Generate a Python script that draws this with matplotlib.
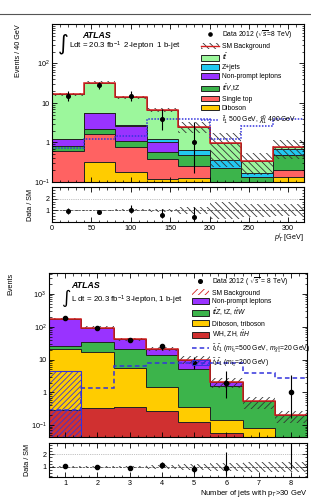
import numpy as np
import matplotlib
matplotlib.use('Agg')
import matplotlib.pyplot as plt
from matplotlib.lines import Line2D
from matplotlib.patches import Patch
from matplotlib.ticker import LogLocator, MultipleLocator, FuncFormatter, NullFormatter, FixedLocator

plt.rcParams['font.family'] = ['Liberation Sans', 'DejaVu Sans']
plt.rcParams['mathtext.fontset'] = 'custom'
plt.rcParams['mathtext.rm'] = 'Liberation Sans'
plt.rcParams['mathtext.it'] = 'Liberation Sans:italic'
plt.rcParams['mathtext.bf'] = 'Liberation Sans:bold'
plt.rcParams['mathtext.sf'] = 'Liberation Sans'
plt.rcParams['hatch.linewidth'] = 0.6

# ---------------- top panel: 2-lepton, 1 b-jet, lepton pT ----------------
pt_edges = [0, 40, 80, 120, 160, 200, 240, 280, 320]
top_diboson = [0.0, 0.32, 0.18, 0.12, 0.126, 0.0, 0.0, 0.13]
top_singletop = [0.61, 1.32, 0.60, 0.26, 0.134, 0.04, 0.03, 0.07]
top_ttv = [0.20, 0.56, 0.32, 0.20, 0.22, 0.18, 0.10, 0.28]
top_nonprompt = [0.42, 3.4, 1.5, 0.42, 0.0, 0.0, 0.0, 0.0]
top_zjets = [0.0, 0.0, 0.15, 0.23, 0.17, 0.14, 0.04, 0.20]
top_ttbar = [15.3, 27.4, 11.3, 5.4, 1.85, 0.61, 0.17, 0.09]
top_unc = [0.07, 0.07, 0.08, 0.12, 0.30, 0.75, 0.55, 0.50]
top_signal = [0.72, 1.23, 1.46, 4.0, 4.0, 1.25, 2.6, 4.0]
top_data_x = [20, 60, 100, 140, 180]
top_data = [15, 28, 15, 4, 1]
top_data_lo = [3.8, 5.3, 3.8, 1.9, 0.83]
top_data_hi = [4.9, 6.3, 4.9, 3.2, 2.3]

# ---------------- bottom panel: 3-lepton, 1 b-jet, jet multiplicity ----------------
nj_edges = [0.5, 1.5, 2.5, 3.5, 4.5, 5.5, 6.5, 7.5, 8.5]
bot_whzh = [0.30, 0.33, 0.37, 0.27, 0.13, 0.06, 0.02, 0.01]
bot_diboson = [20.7, 16.7, 5.2, 1.2, 0.22, 0.08, 0.06, 0.02]
bot_ttz = [5.0, 16.0, 15.4, 12.5, 4.65, 1.46, 0.45, 0.17]
bot_nonprompt = [149, 61, 21, 7.0, 5.0, 0.5, 0.0, 0.0]
bot_unc = [0.08, 0.08, 0.10, 0.15, 0.25, 0.35, 0.40, 0.40]
bot_signal1 = [0.3, 1.4, 6.2, 8.1, 8.1, 8.1, 4.0, 2.8]
bot_signal2 = [4.5, 0, 0, 0, 0, 0, 0, 0]
bot_data_x = [1, 2, 3, 4, 5, 6, 8]
bot_data = [190, 93, 40, 25, 8, 2, 1]
bot_data_lo = [14, 10, 6.3, 5.0, 2.8, 1.3, 0.83]
bot_data_hi = [14, 10, 6.3, 5.0, 3.9, 2.6, 2.3]

C_TTBAR = '#9cf79c'
C_ZJ = '#22c8f0'
C_NP = '#9933ff'
C_TTV = '#3cb44b'
C_ST = '#ff6262'
C_DIB = '#ffcc00'
C_WH = '#d03030'
C_TOT = '#d41e1e'
C_SIG = '#3333dd'
C_HATCH = '#333333'
FS = 5.2

fig = plt.figure(figsize=(3.11, 4.98), dpi=100)
fig.add_artist(Line2D([0, 1], [1 - 14 / 498, 1 - 14 / 498], color='#555555', lw=0.8))


def style(ax):
    ax.tick_params(which='both', direction='in', top=True, right=True, labelsize=FS, pad=2)
    ax.tick_params(which='major', length=3.5, width=0.6)
    ax.tick_params(which='minor', length=1.8, width=0.5)
    for s in ax.spines.values():
        s.set_linewidth(0.8)


def log_fmt(v, pos):
    e = int(round(np.log10(v)))
    if e == 0:
        return '1'
    if e == 1:
        return '10'
    return r'$10^{%d}$' % e


def draw_stack(ax, edges, layers, colors, base):
    cum = np.full(len(edges) - 1, base)
    tops = []
    for vals, c in zip(layers, colors):
        new = cum + np.array(vals)
        ax.stairs(new, edges, baseline=cum, fill=True, color=c, lw=0)
        tops.append(new.copy())
        cum = new
    for t in tops:
        ax.stairs(t, edges, baseline=None, color='#222222', lw=0.7)
    return cum


# ===== top main =====
ax1 = fig.add_axes([52 / 311, 1 - 182 / 498, 252 / 311, 158 / 498])
tot1 = draw_stack(ax1, pt_edges,
                  [top_diboson, top_singletop, top_ttv, top_nonprompt, top_zjets, top_ttbar],
                  [C_DIB, C_ST, C_TTV, C_NP, C_ZJ, C_TTBAR], 1e-4)
u1 = np.array(top_unc)
ax1.stairs(tot1 * (1 + u1), pt_edges, baseline=tot1 * (1 - u1), fill=True,
           facecolor='none', edgecolor=C_HATCH, hatch='\\\\\\\\\\', lw=0)
ax1.stairs(tot1, pt_edges, baseline=None, color=C_TOT, lw=1.1)
ax1.stairs(top_signal, pt_edges, baseline=None, color=C_SIG, lw=1.1, ls=(0, (1, 1)))
ax1.errorbar(top_data_x, top_data, yerr=[top_data_lo, top_data_hi], fmt='o', ms=2.6,
             color='black', elinewidth=0.8, capsize=0)
ax1.set_yscale('log')
ax1.set_ylim(0.1, 1000)
ax1.set_xlim(0, 320)
ax1.yaxis.set_major_locator(FixedLocator([0.1, 1, 10, 100]))
ax1.yaxis.set_major_formatter(FuncFormatter(log_fmt))
ax1.yaxis.set_minor_locator(LogLocator(base=10, subs=np.arange(2, 10)))
ax1.yaxis.set_minor_formatter(NullFormatter())
ax1.xaxis.set_major_locator(MultipleLocator(50))
ax1.xaxis.set_minor_locator(MultipleLocator(10))
ax1.set_xticklabels([])
style(ax1)
ax1.set_ylabel('Events / 40 GeV', fontsize=FS, loc='top', labelpad=8)
ax1.text(0.118, 0.93, 'ATLAS', transform=ax1.transAxes, fontsize=6.3, fontweight='bold',
         style='italic', va='center')
ax1.text(0.024, 0.875, '\u222b', transform=ax1.transAxes, fontsize=15, va='center',
         family='DejaVu Sans')
ax1.text(0.068, 0.858, r'Ldt = 20.3 fb$^{-1}$  2-lepton  1 b-jet', transform=ax1.transAxes,
         fontsize=FS + 0.5, va='center')

h_data = Line2D([], [], marker='o', color='k', ls='none', ms=2.3)
h_sm = (Patch(facecolor='none', edgecolor=C_HATCH, hatch='\\\\\\\\\\', lw=0),
        Line2D([], [], color=C_TOT, lw=1.0))
hs1 = [h_data, h_sm,
       Patch(facecolor=C_TTBAR, edgecolor='#222222', lw=0.7),
       Patch(facecolor=C_ZJ, edgecolor='#222222', lw=0.7),
       Patch(facecolor=C_NP, edgecolor='#222222', lw=0.7),
       Patch(facecolor=C_TTV, edgecolor='#222222', lw=0.7),
       Patch(facecolor=C_ST, edgecolor='#222222', lw=0.7),
       Patch(facecolor=C_DIB, edgecolor='#222222', lw=0.7),
       Line2D([], [], color=C_SIG, lw=1.1, ls=(0, (1, 1)))]
ls1 = [r'Data 2012 ($\sqrt{s}$=8 TeV)', 'SM Background', r'$t\bar{t}$', 'Z+jets',
       'Non-prompt leptons', r'$t\bar{t}V$,tZ', 'Single top', 'Diboson',
       r'$\tilde{t}_1$ 500 GeV, $\tilde{\chi}^0_1$ 400 GeV']
ax1.legend(hs1, ls1, loc='upper left', bbox_to_anchor=(0.59, 0.975), frameon=False,
           fontsize=FS - 0.3, handlelength=2.6, handleheight=0.9, handletextpad=0.4,
           labelspacing=0.28, borderpad=0.1, borderaxespad=0.0)

# ===== top ratio =====
ax2 = fig.add_axes([52 / 311, 1 - 222 / 498, 252 / 311, 35 / 498])
ax2.stairs(1 + u1, pt_edges, baseline=1 - u1, fill=True, facecolor='none',
           edgecolor=C_HATCH, hatch='\\\\\\\\\\', lw=0)
ax2.axhline(1, color='#333333', lw=0.5, ls='--')
ax2.axhline(2, color='#888888', lw=0.5, ls=':')
n1 = len(top_data)
r1 = np.array(top_data) / tot1[:n1]
ax2.errorbar(top_data_x, r1, yerr=[np.array(top_data_lo) / tot1[:n1], np.array(top_data_hi) / tot1[:n1]],
             fmt='o', ms=2.6, color='black', elinewidth=0.8, capsize=0)
ax2.set_xlim(0, 320)
ax2.set_ylim(0, 3)
ax2.yaxis.set_major_locator(FixedLocator([1, 2]))
ax2.yaxis.set_minor_locator(MultipleLocator(0.25))
ax2.xaxis.set_major_locator(MultipleLocator(50))
ax2.xaxis.set_minor_locator(MultipleLocator(10))
style(ax2)
ax2.set_ylabel('Data / SM', fontsize=FS, labelpad=8)
ax2.set_xlabel(r'$p_{T}^{l}$ [GeV]', fontsize=FS, loc='right', labelpad=0)

# ===== bottom main =====
ax3 = fig.add_axes([49 / 311, 1 - 437 / 498, 258 / 311, 164 / 498])
tot3 = draw_stack(ax3, nj_edges, [bot_whzh, bot_diboson, bot_ttz, bot_nonprompt],
                  [C_WH, C_DIB, C_TTV, C_NP], 1e-4)
u3 = np.array(bot_unc)
ax3.stairs(tot3 * (1 + u3), nj_edges, baseline=tot3 * (1 - u3), fill=True,
           facecolor='none', edgecolor=C_HATCH, hatch='/////', lw=0)
ax3.stairs(tot3, nj_edges, baseline=None, color=C_TOT, lw=1.1)
sig2 = np.array(bot_signal2, dtype=float)
e = np.array(nj_edges)
for i in np.where(sig2 > 0)[0]:
    ax3.stairs([sig2[i]], [e[i], e[i + 1]], baseline=1e-4, fill=True, facecolor='none',
               edgecolor=C_SIG, hatch='//////', lw=0.8)
ax3.stairs(bot_signal1, nj_edges, baseline=None, color=C_SIG, lw=1.1, ls=(0, (3, 2)))
ax3.errorbar(bot_data_x, bot_data, yerr=[bot_data_lo, bot_data_hi], fmt='o', ms=3.0,
             color='black', elinewidth=0.8, capsize=0)
ax3.set_yscale('log')
ax3.set_ylim(0.044, 4300)
ax3.set_xlim(0.5, 8.5)
ax3.yaxis.set_major_locator(FixedLocator([0.1, 1, 10, 100, 1000]))
ax3.yaxis.set_major_formatter(FuncFormatter(log_fmt))
ax3.yaxis.set_minor_locator(LogLocator(base=10, subs=np.arange(2, 10)))
ax3.yaxis.set_minor_formatter(NullFormatter())
ax3.xaxis.set_major_locator(MultipleLocator(1))
ax3.xaxis.set_minor_locator(MultipleLocator(0.25))
ax3.set_xticklabels([])
style(ax3)
ax3.set_ylabel('Events', fontsize=FS, loc='top', labelpad=12)
ax3.text(0.085, 0.925, 'ATLAS', transform=ax3.transAxes, fontsize=6.3, fontweight='bold',
         style='italic', va='center')
ax3.text(0.047, 0.845, '\u222b', transform=ax3.transAxes, fontsize=13, va='center',
         family='DejaVu Sans')
ax3.text(0.085, 0.835, r'L dt = 20.3 fb$^{-1}$ 3-lepton, 1 b-jet', transform=ax3.transAxes,
         fontsize=FS + 0.5, va='center')

h_sm3 = (Patch(facecolor='none', edgecolor=C_TOT, hatch='/////', lw=0),)
hs3 = [Line2D([], [], marker='o', color='k', ls='none', ms=2.6), h_sm3,
       Patch(facecolor=C_NP, edgecolor='#222222', lw=0.7),
       Patch(facecolor=C_TTV, edgecolor='#222222', lw=0.7),
       Patch(facecolor=C_DIB, edgecolor='#222222', lw=0.7),
       Patch(facecolor=C_WH, edgecolor='#222222', lw=0.7),
       Line2D([], [], color=C_SIG, lw=1.1, ls=(0, (3, 2))),
       Patch(facecolor='none', edgecolor=C_SIG, hatch='//////', lw=0.7)]
ls3 = [r'Data 2012 ( $\sqrt{s}$ = 8 TeV)', 'SM Background', 'Non-prompt leptons',
       r'$t\bar{t}Z$, tZ, $t\bar{t}W$', 'Diboson, triboson', r'WH, ZH, $t\bar{t}H$',
       r'$\tilde{t}_1\tilde{t}_1$ ($m_{\tilde{t}_1}$=500 GeV, $m_{\tilde{\chi}^0_1}$=20 GeV)',
       r'$\tilde{t}_1\tilde{t}_1$ ($m_{\tilde{t}_1}$=200 GeV)']
ax3.legend(hs3, ls3, loc='upper left', bbox_to_anchor=(0.55, 0.99), frameon=False,
           fontsize=FS - 0.3, handlelength=2.6, handleheight=0.9, handletextpad=0.4,
           labelspacing=0.25, borderpad=0.1, borderaxespad=0.0)

# ===== bottom ratio =====
ax4 = fig.add_axes([49 / 311, 1 - 477 / 498, 258 / 311, 34 / 498])
ax4.stairs(1 + u3, nj_edges, baseline=1 - u3, fill=True, facecolor='none',
           edgecolor=C_HATCH, hatch='\\\\\\\\\\', lw=0)
ax4.axhline(1, color='#333333', lw=0.5, ls='--')
ax4.axhline(2, color='#888888', lw=0.5, ls=':')
idx = [int(round(x)) - 1 for x in bot_data_x]
tb = tot3[idx]
r3 = np.array(bot_data) / tb
ax4.errorbar(bot_data_x, r3, yerr=[np.array(bot_data_lo) / tb, np.array(bot_data_hi) / tb],
             fmt='o', ms=3.0, color='black', elinewidth=0.8, capsize=0)
ax4.set_xlim(0.5, 8.5)
ax4.set_ylim(0.2, 2.9)
ax4.yaxis.set_major_locator(FixedLocator([1, 2]))
ax4.yaxis.set_minor_locator(MultipleLocator(0.25))
ax4.xaxis.set_major_locator(MultipleLocator(1))
ax4.xaxis.set_minor_locator(MultipleLocator(0.25))
style(ax4)
ax4.set_ylabel('Data / SM', fontsize=FS, labelpad=8)
ax4.set_xlabel(r'Number of jets with p$_{T}$>30 GeV', fontsize=FS + 0.3, loc='right', labelpad=1)

fig.savefig('out.png', dpi=100)
